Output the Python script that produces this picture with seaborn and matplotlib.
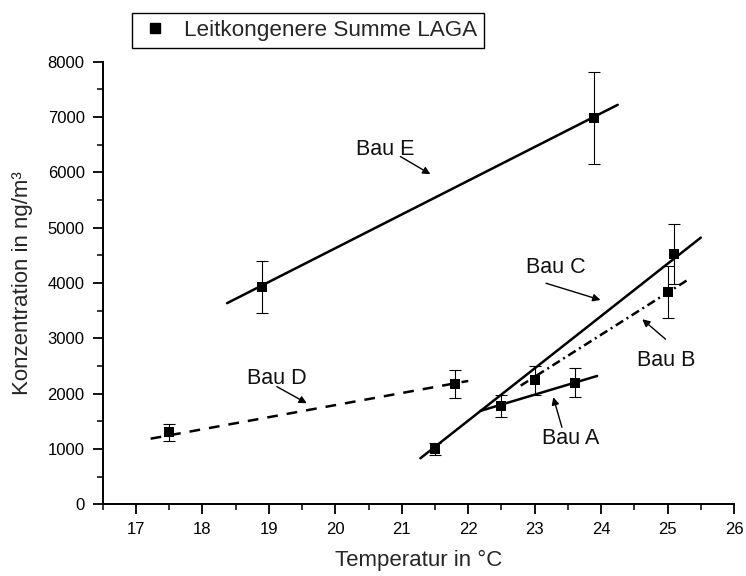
import matplotlib
matplotlib.use("Agg")
import matplotlib.pyplot as plt
from matplotlib.ticker import MultipleLocator
from matplotlib.lines import Line2D
import seaborn as sns
import pandas as pd

# ---- data ----
bau = ["A", "A", "B", "B", "C", "C", "D", "D", "E", "E"]
temp = [22.5, 23.6, 23.0, 25.0, 21.5, 25.1, 17.5, 21.8, 18.9, 23.9]
conc = [1770, 2200, 2240, 3840, 1000, 4520, 1300, 2170, 3930, 6980]
err = [200, 260, 260, 470, 110, 540, 155, 255, 470, 830]

# regression line endpoints per building
fit_bau = ["A", "A", "B", "B", "C", "C", "D", "D", "E", "E"]
fit_x = [22.18, 23.94, 22.79, 25.32, 21.28, 25.50, 17.22, 22.00, 18.37, 24.25]
fit_y = [1687, 2320, 2145, 4069, 832, 4820, 1186, 2230, 3635, 7221]

# annotation labels: text position, arrow start, arrow end
ann_label = ["Bau A", "Bau B", "Bau C", "Bau D", "Bau E"]
ann_text_x = [23.54, 24.98, 23.32, 19.12, 20.75]
ann_text_y = [1193, 2597, 4273, 2266, 6405]
ann_from_x = [23.41, 24.97, 23.17, 19.12, 20.98]
ann_from_y = [1392, 2984, 3996, 2127, 6286]
ann_to_x = [23.28, 24.62, 23.99, 19.57, 21.43]
ann_to_y = [1935, 3345, 3693, 1826, 5967]

legend_label = "Leitkongenere Summe LAGA"
x_label = "Temperatur in \u00b0C"
y_label = "Konzentration in ng/m\u00b3"

# ---- styling ----
sns.set_style("ticks")
plt.rcParams["font.family"] = ["Liberation Sans", "DejaVu Sans"]
plt.rcParams["xtick.direction"] = "out"
plt.rcParams["ytick.direction"] = "out"

df = pd.DataFrame({"bau": bau, "temp": temp, "conc": conc, "err": err})
fit = pd.DataFrame({"bau": fit_bau, "x": fit_x, "y": fit_y})

fig = plt.figure(figsize=(7.46, 5.76), dpi=100)
ax = fig.add_axes([102.8 / 746, 1 - 504.3 / 576, (734 - 102.8) / 746, (504.3 - 61.7) / 576])

line_styles = {
    "A": "-",
    "B": (0, (3.5, 1.6, 0.8, 1.6)),
    "C": "-",
    "D": (0, (4.3, 3.6)),
    "E": "-",
}
for b, sub in fit.groupby("bau"):
    sns.lineplot(data=sub, x="x", y="y", ax=ax, color="black", linewidth=1.8,
                 linestyle=line_styles[b], legend=False, sort=False)

ax.errorbar(df["temp"], df["conc"], yerr=df["err"], fmt="none", ecolor="black",
            elinewidth=0.8, capsize=4, capthick=0.8, zorder=3)
sns.scatterplot(data=df, x="temp", y="conc", ax=ax, marker="s", s=42,
                color="black", edgecolor="black", linewidth=0, zorder=4, legend=False)

for lab, tx, ty, fx, fy, ex, ey in zip(ann_label, ann_text_x, ann_text_y,
                                        ann_from_x, ann_from_y, ann_to_x, ann_to_y):
    ax.text(tx, ty, lab, ha="center", va="center", fontsize=15.5, color="#111111")
    ax.annotate("", xy=(ex, ey), xytext=(fx, fy),
                arrowprops=dict(arrowstyle="-|>", lw=1.0, color="black",
                                mutation_scale=11, shrinkA=0, shrinkB=0))

ax.set_xlim(16.5, 26)
ax.set_ylim(0, 8000)
ax.xaxis.set_major_locator(MultipleLocator(1))
ax.xaxis.set_minor_locator(MultipleLocator(0.5))
ax.yaxis.set_major_locator(MultipleLocator(1000))
ax.yaxis.set_minor_locator(MultipleLocator(500))
ax.set_xticks(range(17, 27))
ax.tick_params(which="major", length=7, width=1.3, labelsize=12, colors="black", pad=6)
ax.tick_params(which="minor", length=4, width=1.3)
for s in ["left", "bottom"]:
    ax.spines[s].set_linewidth(1.4)
    ax.spines[s].set_color("black")
sns.despine(ax=ax)

ax.set_xlabel(x_label, fontsize=16, va="center")
ax.set_ylabel(y_label, fontsize=16, va="center")
ax.xaxis.set_label_coords(0.5, -(560 - 504.3) / (504.3 - 61.7))
ax.yaxis.set_label_coords(-(102.8 - 22) / (734 - 102.8), (504.3 - 283) / (504.3 - 61.7))

handle = Line2D([], [], linestyle="none", marker="s", color="black", markersize=6.5)
leg = fig.legend([handle], [legend_label], loc="upper left",
                 bbox_to_anchor=(132 / 746, 1 - 13 / 576), fontsize=16.2,
                 frameon=True, fancybox=False, edgecolor="black", framealpha=1,
                 borderpad=0.3, borderaxespad=0, handletextpad=0.6, handlelength=1.4)
leg.get_frame().set_linewidth(1.0)

fig.savefig("out.png", dpi=100)
